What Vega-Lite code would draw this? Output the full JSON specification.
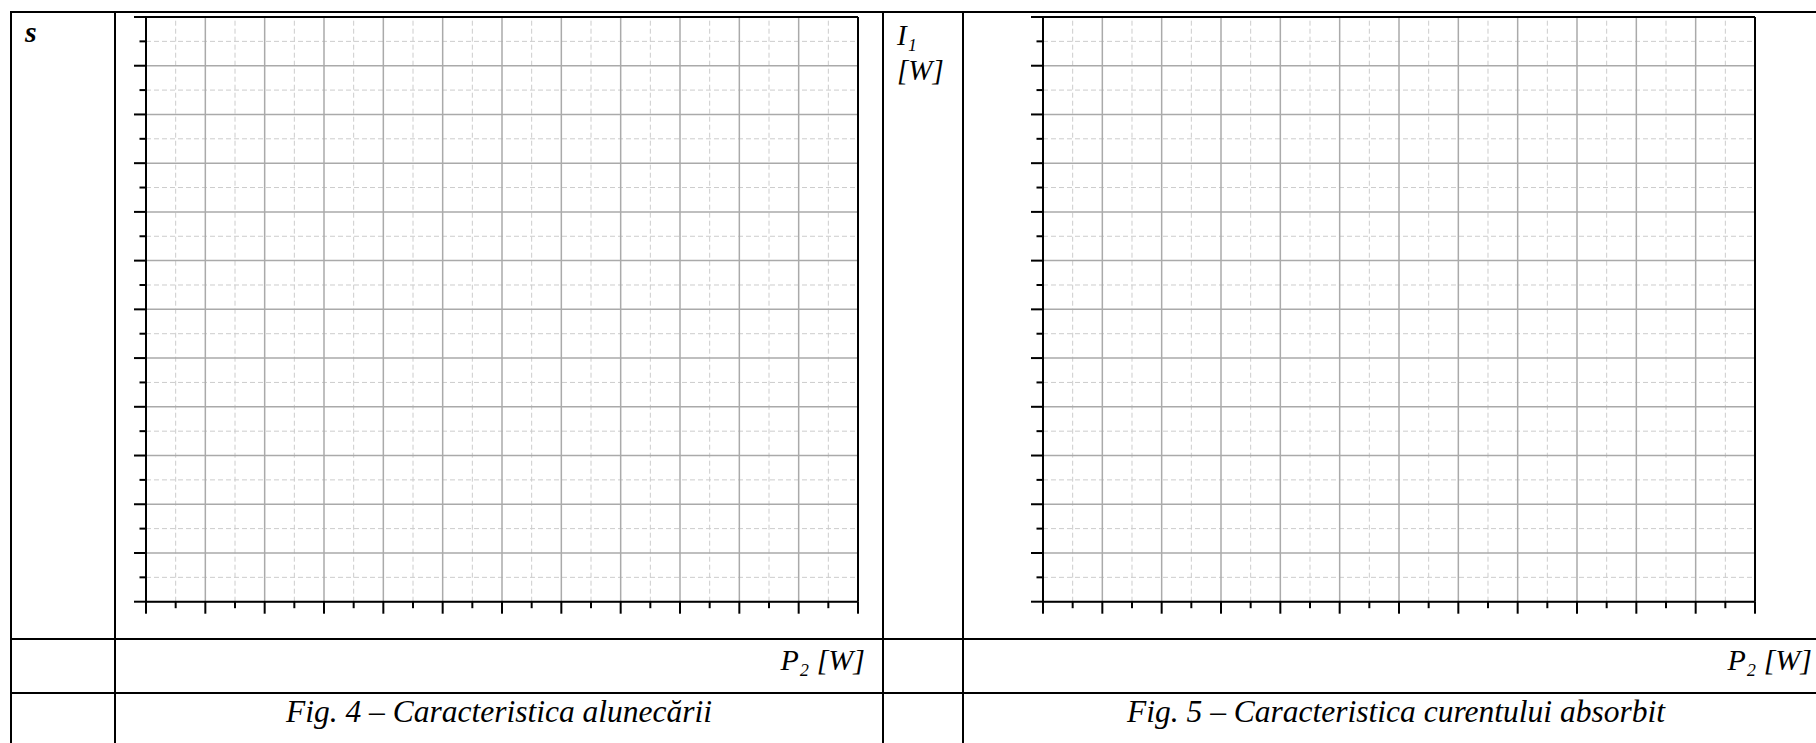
{
  "$schema": "https://vega.github.io/schema/vega-lite/v6.json",
  "background": "white",
  "padding": {"left": 10, "top": 11, "right": 0, "bottom": 0},
  "autosize": {"type": "pad"},
  "columns": 4,
  "spacing": 0,
  "align": "each",
  "bounds": "flush",
  "datasets": {
    "grid": [
      {"v": 0}, {"v": 0.5}, {"v": 1}, {"v": 1.5}, {"v": 2}, {"v": 2.5}, {"v": 3}, {"v": 3.5},
      {"v": 4}, {"v": 4.5}, {"v": 5}, {"v": 5.5}, {"v": 6}, {"v": 6.5}, {"v": 7}, {"v": 7.5},
      {"v": 8}, {"v": 8.5}, {"v": 9}, {"v": 9.5}, {"v": 10}, {"v": 10.5}, {"v": 11}, {"v": 11.5},
      {"v": 12}
    ]
  },
  "concat": [
    {
      "width": 104, "height": 627,
      "view": {"style": "cell", "stroke": "#000000", "strokeWidth": 2},
      "data": {"values": [{"label": "s"}]},
      "mark": {"type": "text", "fontSize": 30, "fontWeight": "bold", "align": "left", "baseline": "alphabetic", "x": 14, "y": 30},
      "encoding": {"text": {"field": "label"}}
    },
    {
      "width": 768, "height": 627,
      "layer": [
        {
          "data": {"name": "grid"},
          "transform": [{"filter": "datum.v % 1 != 0"}],
          "mark": {"type": "rule", "stroke": "#cccccc", "strokeWidth": 1, "strokeDash": [5, 3]},
          "encoding": {
            "x": {"field": "v", "type": "quantitative", "scale": {"domain": [-0.5225, 12.4213], "nice": false, "zero": false}, "axis": null},
            "y": {"datum": 0, "type": "quantitative", "scale": {"domain": [-0.7655, 12.1026], "nice": false, "zero": false}, "axis": null},
            "y2": {"datum": 12}
          }
        },
        {
          "data": {"name": "grid"},
          "transform": [{"filter": "datum.v % 1 != 0"}],
          "mark": {"type": "rule", "stroke": "#cccccc", "strokeWidth": 1, "strokeDash": [5, 3]},
          "encoding": {
            "y": {"field": "v", "type": "quantitative", "scale": {"domain": [-0.7655, 12.1026], "nice": false, "zero": false}, "axis": null},
            "x": {"datum": 0, "type": "quantitative", "scale": {"domain": [-0.5225, 12.4213], "nice": false, "zero": false}, "axis": null},
            "x2": {"datum": 12}
          }
        },
        {
          "data": {"name": "grid"},
          "transform": [{"filter": "datum.v % 1 == 0"}],
          "mark": {"type": "rule", "stroke": "#aaaaaa", "strokeWidth": 1.5},
          "encoding": {
            "x": {"field": "v", "type": "quantitative", "scale": {"domain": [-0.5225, 12.4213], "nice": false, "zero": false}, "axis": null},
            "y": {"datum": 0, "type": "quantitative", "scale": {"domain": [-0.7655, 12.1026], "nice": false, "zero": false}, "axis": null},
            "y2": {"datum": 12}
          }
        },
        {
          "data": {"name": "grid"},
          "transform": [{"filter": "datum.v % 1 == 0"}],
          "mark": {"type": "rule", "stroke": "#aaaaaa", "strokeWidth": 1.5},
          "encoding": {
            "y": {"field": "v", "type": "quantitative", "scale": {"domain": [-0.7655, 12.1026], "nice": false, "zero": false}, "axis": null},
            "x": {"datum": 0, "type": "quantitative", "scale": {"domain": [-0.5225, 12.4213], "nice": false, "zero": false}, "axis": null},
            "x2": {"datum": 12}
          }
        },
        {
          "data": {"name": "grid"},
          "transform": [{"filter": "datum.v % 1 != 0"}],
          "mark": {"type": "rule", "stroke": "#000000", "strokeWidth": 2},
          "encoding": {
            "x": {"field": "v", "type": "quantitative", "scale": {"domain": [-0.5225, 12.4213], "nice": false, "zero": false}, "axis": null},
            "y": {"datum": 0, "type": "quantitative", "scale": {"domain": [-0.7655, 12.1026], "nice": false, "zero": false}, "axis": null},
            "y2": {"datum": -0.1334}
          }
        },
        {
          "data": {"name": "grid"},
          "transform": [{"filter": "datum.v % 1 == 0"}],
          "mark": {"type": "rule", "stroke": "#000000", "strokeWidth": 2},
          "encoding": {
            "x": {"field": "v", "type": "quantitative", "scale": {"domain": [-0.5225, 12.4213], "nice": false, "zero": false}, "axis": null},
            "y": {"datum": 0, "type": "quantitative", "scale": {"domain": [-0.7655, 12.1026], "nice": false, "zero": false}, "axis": null},
            "y2": {"datum": -0.2463}
          }
        },
        {
          "data": {"name": "grid"},
          "transform": [{"filter": "datum.v % 1 != 0"}],
          "mark": {"type": "rule", "stroke": "#000000", "strokeWidth": 2},
          "encoding": {
            "y": {"field": "v", "type": "quantitative", "scale": {"domain": [-0.7655, 12.1026], "nice": false, "zero": false}, "axis": null},
            "x": {"datum": 0, "type": "quantitative", "scale": {"domain": [-0.5225, 12.4213], "nice": false, "zero": false}, "axis": null},
            "x2": {"datum": -0.1096}
          }
        },
        {
          "data": {"name": "grid"},
          "transform": [{"filter": "datum.v % 1 == 0"}],
          "mark": {"type": "rule", "stroke": "#000000", "strokeWidth": 2},
          "encoding": {
            "y": {"field": "v", "type": "quantitative", "scale": {"domain": [-0.7655, 12.1026], "nice": false, "zero": false}, "axis": null},
            "x": {"datum": 0, "type": "quantitative", "scale": {"domain": [-0.5225, 12.4213], "nice": false, "zero": false}, "axis": null},
            "x2": {"datum": -0.2022}
          }
        },
        {
          "data": {"name": "grid"},
          "transform": [{"filter": "datum.v == 0 || datum.v == 12"}],
          "mark": {"type": "rule", "stroke": "#000000", "strokeWidth": 2},
          "encoding": {
            "x": {"field": "v", "type": "quantitative", "scale": {"domain": [-0.5225, 12.4213], "nice": false, "zero": false}, "axis": null},
            "y": {"datum": 0, "type": "quantitative", "scale": {"domain": [-0.7655, 12.1026], "nice": false, "zero": false}, "axis": null},
            "y2": {"datum": 12}
          }
        },
        {
          "data": {"name": "grid"},
          "transform": [{"filter": "datum.v == 0 || datum.v == 12"}],
          "mark": {"type": "rule", "stroke": "#000000", "strokeWidth": 2},
          "encoding": {
            "y": {"field": "v", "type": "quantitative", "scale": {"domain": [-0.7655, 12.1026], "nice": false, "zero": false}, "axis": null},
            "x": {"datum": 0, "type": "quantitative", "scale": {"domain": [-0.5225, 12.4213], "nice": false, "zero": false}, "axis": null},
            "x2": {"datum": 12}
          }
        }
      ]
    },
    {
      "width": 80, "height": 627,
      "view": {"style": "cell", "stroke": "#000000", "strokeWidth": 2},
      "data": {"values": [{"label": "I₁\n[W]"}]},
      "mark": {"type": "text", "fontSize": 29, "lineBreak": "\n", "lineHeight": 35, "align": "left", "baseline": "alphabetic", "x": 14, "y": 33},
      "encoding": {"text": {"field": "label"}}
    },
    {
      "width": 870, "height": 627,
      "layer": [
        {
          "data": {"name": "grid"},
          "transform": [{"filter": "datum.v % 1 != 0"}],
          "mark": {"type": "rule", "stroke": "#cccccc", "strokeWidth": 1, "strokeDash": [5, 3]},
          "encoding": {
            "x": {"field": "v", "type": "quantitative", "scale": {"domain": [-1.3483, 13.3146], "nice": false, "zero": false}, "axis": null},
            "y": {"datum": 0, "type": "quantitative", "scale": {"domain": [-0.7655, 12.1026], "nice": false, "zero": false}, "axis": null},
            "y2": {"datum": 12}
          }
        },
        {
          "data": {"name": "grid"},
          "transform": [{"filter": "datum.v % 1 != 0"}],
          "mark": {"type": "rule", "stroke": "#cccccc", "strokeWidth": 1, "strokeDash": [5, 3]},
          "encoding": {
            "y": {"field": "v", "type": "quantitative", "scale": {"domain": [-0.7655, 12.1026], "nice": false, "zero": false}, "axis": null},
            "x": {"datum": 0, "type": "quantitative", "scale": {"domain": [-1.3483, 13.3146], "nice": false, "zero": false}, "axis": null},
            "x2": {"datum": 12}
          }
        },
        {
          "data": {"name": "grid"},
          "transform": [{"filter": "datum.v % 1 == 0"}],
          "mark": {"type": "rule", "stroke": "#aaaaaa", "strokeWidth": 1.5},
          "encoding": {
            "x": {"field": "v", "type": "quantitative", "scale": {"domain": [-1.3483, 13.3146], "nice": false, "zero": false}, "axis": null},
            "y": {"datum": 0, "type": "quantitative", "scale": {"domain": [-0.7655, 12.1026], "nice": false, "zero": false}, "axis": null},
            "y2": {"datum": 12}
          }
        },
        {
          "data": {"name": "grid"},
          "transform": [{"filter": "datum.v % 1 == 0"}],
          "mark": {"type": "rule", "stroke": "#aaaaaa", "strokeWidth": 1.5},
          "encoding": {
            "y": {"field": "v", "type": "quantitative", "scale": {"domain": [-0.7655, 12.1026], "nice": false, "zero": false}, "axis": null},
            "x": {"datum": 0, "type": "quantitative", "scale": {"domain": [-1.3483, 13.3146], "nice": false, "zero": false}, "axis": null},
            "x2": {"datum": 12}
          }
        },
        {
          "data": {"name": "grid"},
          "transform": [{"filter": "datum.v % 1 != 0"}],
          "mark": {"type": "rule", "stroke": "#000000", "strokeWidth": 2},
          "encoding": {
            "x": {"field": "v", "type": "quantitative", "scale": {"domain": [-1.3483, 13.3146], "nice": false, "zero": false}, "axis": null},
            "y": {"datum": 0, "type": "quantitative", "scale": {"domain": [-0.7655, 12.1026], "nice": false, "zero": false}, "axis": null},
            "y2": {"datum": -0.1334}
          }
        },
        {
          "data": {"name": "grid"},
          "transform": [{"filter": "datum.v % 1 == 0"}],
          "mark": {"type": "rule", "stroke": "#000000", "strokeWidth": 2},
          "encoding": {
            "x": {"field": "v", "type": "quantitative", "scale": {"domain": [-1.3483, 13.3146], "nice": false, "zero": false}, "axis": null},
            "y": {"datum": 0, "type": "quantitative", "scale": {"domain": [-0.7655, 12.1026], "nice": false, "zero": false}, "axis": null},
            "y2": {"datum": -0.2463}
          }
        },
        {
          "data": {"name": "grid"},
          "transform": [{"filter": "datum.v % 1 != 0"}],
          "mark": {"type": "rule", "stroke": "#000000", "strokeWidth": 2},
          "encoding": {
            "y": {"field": "v", "type": "quantitative", "scale": {"domain": [-0.7655, 12.1026], "nice": false, "zero": false}, "axis": null},
            "x": {"datum": 0, "type": "quantitative", "scale": {"domain": [-1.3483, 13.3146], "nice": false, "zero": false}, "axis": null},
            "x2": {"datum": -0.1096}
          }
        },
        {
          "data": {"name": "grid"},
          "transform": [{"filter": "datum.v % 1 == 0"}],
          "mark": {"type": "rule", "stroke": "#000000", "strokeWidth": 2},
          "encoding": {
            "y": {"field": "v", "type": "quantitative", "scale": {"domain": [-0.7655, 12.1026], "nice": false, "zero": false}, "axis": null},
            "x": {"datum": 0, "type": "quantitative", "scale": {"domain": [-1.3483, 13.3146], "nice": false, "zero": false}, "axis": null},
            "x2": {"datum": -0.2022}
          }
        },
        {
          "data": {"name": "grid"},
          "transform": [{"filter": "datum.v == 0 || datum.v == 12"}],
          "mark": {"type": "rule", "stroke": "#000000", "strokeWidth": 2},
          "encoding": {
            "x": {"field": "v", "type": "quantitative", "scale": {"domain": [-1.3483, 13.3146], "nice": false, "zero": false}, "axis": null},
            "y": {"datum": 0, "type": "quantitative", "scale": {"domain": [-0.7655, 12.1026], "nice": false, "zero": false}, "axis": null},
            "y2": {"datum": 12}
          }
        },
        {
          "data": {"name": "grid"},
          "transform": [{"filter": "datum.v == 0 || datum.v == 12"}],
          "mark": {"type": "rule", "stroke": "#000000", "strokeWidth": 2},
          "encoding": {
            "y": {"field": "v", "type": "quantitative", "scale": {"domain": [-0.7655, 12.1026], "nice": false, "zero": false}, "axis": null},
            "x": {"datum": 0, "type": "quantitative", "scale": {"domain": [-1.3483, 13.3146], "nice": false, "zero": false}, "axis": null},
            "x2": {"datum": 12}
          }
        }
      ]
    },
    {
      "width": 104, "height": 54,
      "view": {"style": "cell", "stroke": "#000000", "strokeWidth": 2},
      "data": {"values": []},
      "mark": {"type": "text"},
      "encoding": {}
    },
    {
      "width": 768, "height": 54,
      "view": {"style": "cell", "stroke": "#000000", "strokeWidth": 2},
      "data": {"values": [{"label": "P₂ [W]"}]},
      "mark": {"type": "text", "fontSize": 30, "align": "right", "baseline": "alphabetic", "x": 750, "y": 31},
      "encoding": {"text": {"field": "label"}}
    },
    {
      "width": 80, "height": 54,
      "view": {"style": "cell", "stroke": "#000000", "strokeWidth": 2},
      "data": {"values": []},
      "mark": {"type": "text"},
      "encoding": {}
    },
    {
      "width": 870, "height": 54,
      "view": {"style": "cell", "stroke": "#000000", "strokeWidth": 2},
      "data": {"values": [{"label": "P₂ [W]"}]},
      "mark": {"type": "text", "fontSize": 30, "align": "right", "baseline": "alphabetic", "x": 849, "y": 31},
      "encoding": {"text": {"field": "label"}}
    },
    {
      "width": 104, "height": 60,
      "view": {"style": "cell", "stroke": "#000000", "strokeWidth": 2},
      "data": {"values": []},
      "mark": {"type": "text"},
      "encoding": {}
    },
    {
      "width": 768, "height": 60,
      "view": {"style": "cell", "stroke": "#000000", "strokeWidth": 2},
      "data": {"values": [{"label": "Fig. 4 – Caracteristica alunecării"}]},
      "mark": {"type": "text", "fontSize": 31.5, "align": "center", "baseline": "alphabetic", "x": 384, "y": 29},
      "encoding": {"text": {"field": "label"}}
    },
    {
      "width": 80, "height": 60,
      "view": {"style": "cell", "stroke": "#000000", "strokeWidth": 2},
      "data": {"values": []},
      "mark": {"type": "text"},
      "encoding": {}
    },
    {
      "width": 870, "height": 60,
      "view": {"style": "cell", "stroke": "#000000", "strokeWidth": 2},
      "data": {"values": [{"label": "Fig. 5 – Caracteristica curentului absorbit"}]},
      "mark": {"type": "text", "fontSize": 31.5, "align": "center", "baseline": "alphabetic", "x": 433, "y": 29},
      "encoding": {"text": {"field": "label"}}
    }
  ],
  "config": {
    "view": {"stroke": "#000000", "strokeWidth": 2},
    "text": {"font": "Liberation Serif", "fontStyle": "italic", "color": "#000000"}
  }
}
